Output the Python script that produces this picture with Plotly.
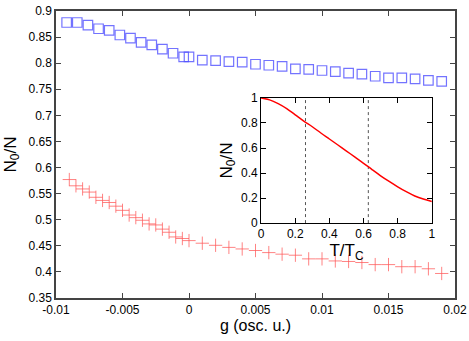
import plotly.graph_objects as go

# Main plot data
g_blue = [-0.0092, -0.0084, -0.0076, -0.0068, -0.006, -0.0052, -0.0044, -0.0036,
          -0.0028, -0.002, -0.0012, -0.0004, 0.0, 0.001, 0.002, 0.003, 0.004, 0.005,
          0.006, 0.007, 0.008, 0.009, 0.01, 0.011, 0.012, 0.013, 0.014, 0.015, 0.016,
          0.017, 0.018, 0.019]
n_blue = [0.878, 0.878, 0.873, 0.866, 0.863, 0.854, 0.848, 0.840, 0.835, 0.827,
          0.819, 0.812, 0.812, 0.806, 0.805, 0.803, 0.802, 0.798, 0.796, 0.794,
          0.789, 0.788, 0.786, 0.784, 0.781, 0.779, 0.775, 0.772, 0.772, 0.770,
          0.767, 0.765]

g_red = [-0.009, -0.0085, -0.008, -0.0075, -0.007, -0.0065, -0.006, -0.0055, -0.005,
         -0.0045, -0.004, -0.0035, -0.003, -0.0025, -0.002, -0.0015, -0.001, -0.0005,
         0.0, 0.001, 0.002, 0.003, 0.004, 0.005, 0.006, 0.007, 0.008, 0.009, 0.01,
         0.011, 0.012, 0.013, 0.014, 0.015, 0.016, 0.017, 0.018, 0.019]
n_red = [0.577, 0.565, 0.559, 0.553, 0.543, 0.537, 0.533, 0.526, 0.518, 0.509, 0.504,
         0.499, 0.492, 0.490, 0.482, 0.476, 0.467, 0.464, 0.460, 0.455, 0.451, 0.447,
         0.444, 0.441, 0.437, 0.434, 0.432, 0.425, 0.425, 0.421, 0.420, 0.418, 0.414,
         0.414, 0.410, 0.410, 0.406, 0.397]

x_ticks = [-0.01, -0.005, 0, 0.005, 0.01, 0.015, 0.02]
x_ticktext = ["-0.01", "-0.005", "0", "0.005", "0.01", "0.015", "0.02"]
y_ticks = [0.35, 0.4, 0.45, 0.5, 0.55, 0.6, 0.65, 0.7, 0.75, 0.8, 0.85, 0.9]

# Inset data
t_inset = [0, 0.05, 0.1, 0.15, 0.2, 0.25, 0.3, 0.35, 0.4, 0.45, 0.5, 0.55, 0.6,
           0.65, 0.7, 0.75, 0.8, 0.85, 0.9, 0.95, 1.0]
n_inset = [1.0, 0.985, 0.955, 0.915, 0.865, 0.815, 0.77, 0.72, 0.672, 0.624, 0.576,
           0.527, 0.478, 0.427, 0.378, 0.333, 0.29, 0.251, 0.217, 0.192, 0.173]
vlines_t = [0.26, 0.628]
inset_ticks = [0, 0.2, 0.4, 0.6, 0.8, 1]
inset_ticktext = ["0", "0.2", "0.4", "0.6", "0.8", "1"]

FONT = "Liberation Sans, Arial, sans-serif"

fig = go.Figure()
fig.add_trace(go.Scatter(x=g_blue, y=n_blue, mode="markers",
                         marker=dict(symbol="square-open", size=9.5,
                                     color="rgba(80,80,255,0.8)",
                                     line=dict(width=1.2)),
                         xaxis="x", yaxis="y", showlegend=False))
fig.add_trace(go.Scatter(x=g_red, y=n_red, mode="markers",
                         marker=dict(symbol="cross-thin-open", size=9.5,
                                     color="rgba(255,90,90,0.75)",
                                     line=dict(width=1, color="rgba(255,90,90,0.75)")),
                         xaxis="x", yaxis="y", showlegend=False))

for vt in vlines_t:
    fig.add_trace(go.Scatter(x=[vt, vt], y=[0, 1], mode="lines",
                             line=dict(color="#555555", width=1, dash="dot"),
                             xaxis="x2", yaxis="y2", showlegend=False))
fig.add_trace(go.Scatter(x=t_inset, y=n_inset, mode="lines",
                         line=dict(color="#ff0000", width=1.5, shape="spline"),
                         xaxis="x2", yaxis="y2", showlegend=False))

fig.update_layout(
    width=469, height=341,
    margin=dict(l=56, r=14, t=11, b=43, autoexpand=False),
    paper_bgcolor="white", plot_bgcolor="white",
    font=dict(family=FONT, size=12, color="black"),
    xaxis=dict(domain=[0, 1], range=[-0.01, 0.02], tickvals=x_ticks, ticktext=x_ticktext,
               ticks="inside", ticklen=5, tickcolor="#444", showline=True,
               linecolor="#444", linewidth=1.5, mirror="ticks", showgrid=False,
               zeroline=False, tickfont=dict(size=12), automargin=False,
               title=dict(text="g (osc. u.)", font=dict(size=16), standoff=0),
               anchor="y"),
    yaxis=dict(domain=[0, 1], range=[0.35, 0.9], tickvals=y_ticks,
               ticks="inside", ticklen=5, tickcolor="#444", showline=True,
               linecolor="#444", linewidth=1.5, mirror="ticks", showgrid=False,
               zeroline=False, tickfont=dict(size=12), automargin=False,
               title=dict(text="N<sub>0</sub>/N", font=dict(size=17), standoff=8),
               anchor="x"),
    xaxis2=dict(domain=[0.514, 0.942], range=[0, 1], tickvals=inset_ticks,
                ticktext=inset_ticktext, ticks="inside", ticklen=5, tickcolor="black",
                showline=True, linecolor="black", linewidth=1, mirror="ticks",
                showgrid=False, zeroline=False, tickfont=dict(size=12), automargin=False,
                title=dict(text="T/T<sub>C</sub>", font=dict(size=17), standoff=0),
                anchor="y2"),
    yaxis2=dict(domain=[0.261, 0.697], range=[0, 1], tickvals=inset_ticks,
                ticktext=inset_ticktext, ticks="inside", ticklen=5, tickcolor="black",
                showline=True, linecolor="black", linewidth=1, mirror="ticks",
                showgrid=False, zeroline=False, tickfont=dict(size=12), automargin=False,
                title=dict(text="N<sub>0</sub>/N", font=dict(size=17), standoff=4),
                anchor="x2"),
)

fig.write_html("out.html",
               config={"displayModeBar": False},
               post_script="document.body.style.margin='0px';document.body.style.overflow='hidden';")
